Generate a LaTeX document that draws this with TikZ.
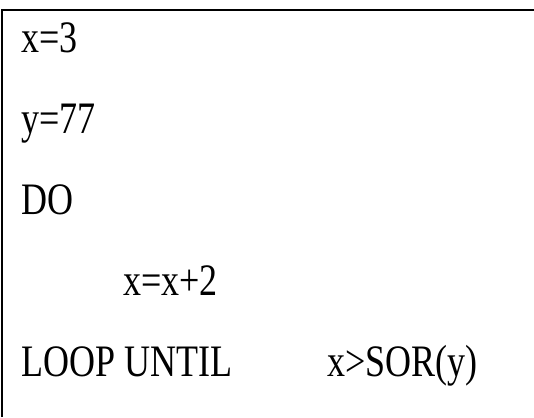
\documentclass[tikz,border=0pt]{standalone}
\usepackage{fontspec}
\setmainfont{Liberation Serif}

\begin{document}
\begin{tikzpicture}[x=0.5pt,y=-0.5pt,
  codeline/.style={anchor=base west, inner sep=0pt, xscale=0.8, font=\fontsize{22.5}{24}\selectfont}]

\useasboundingbox (0,0) rectangle (534,417);

\coordinate (b1) at (2,417);
\coordinate (b2) at (2,10);
\coordinate (b3) at (534,10);
\draw[line width=1pt] (b1) -- (b2) -- (b3);

\node[codeline] (x1) at (21,53) {x=3};
\node[codeline] (y1) at (21,133) {y=77};
\node[codeline] (do) at (21,214) {DO};
\node[codeline] (x2) at (123,295) {x=x+2};
\node[codeline] (lu) at (21,376) {LOOP UNTIL};
\node[codeline] (cond) at (327,376) {x>SOR(y)};

\end{tikzpicture}
\end{document}
